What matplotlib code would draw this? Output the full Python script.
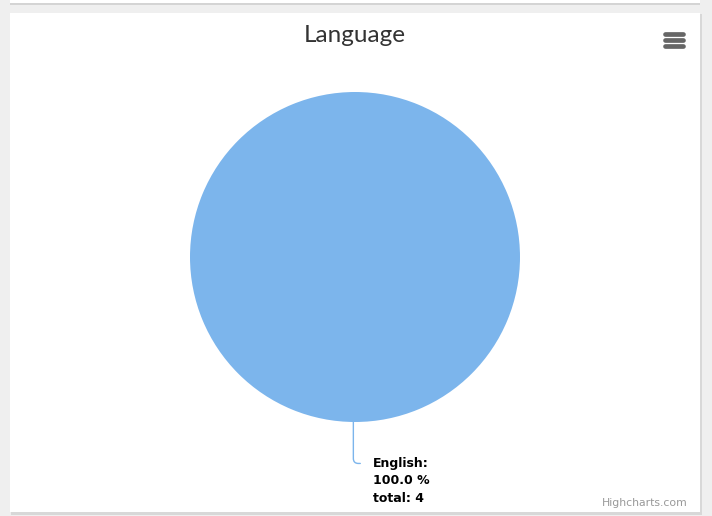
import matplotlib.pyplot as plt
from matplotlib.patches import Rectangle

# data
languages = ["English"]
counts = [4]
title = "Language"
pie_color = "#7cb5ec"

W, H = 712, 516
fig = plt.figure(figsize=(W / 100, H / 100), dpi=100)
fig.patch.set_facecolor("#efefef")

# page / card background in pixel coordinates
bg = fig.add_axes([0, 0, 1, 1])
bg.set_xlim(0, W)
bg.set_ylim(H, 0)
bg.axis("off")
# shadow of the card above
bg.add_patch(Rectangle((10, 0), 690, 5, color="#d4d4d4", lw=0))
bg.add_patch(Rectangle((10, 0), 690, 3, color="white", lw=0))
# card with soft shadow
bg.add_patch(Rectangle((11, 14), 691, 501, color="#d8d8d8", lw=0))
bg.add_patch(Rectangle((10, 13), 690, 499, color="white", lw=0))

# title
bg.text(355, 36, title, ha="center", va="center", fontsize=17.5,
        color="#333333", family="Lato")

# hamburger menu
for yy in (34, 40, 46):
    bg.plot([665, 683], [yy, yy], color="#666666", lw=3.4,
            solid_capstyle="round")

# credits
bg.text(688, 503, "Highcharts.com", ha="right", va="center", fontsize=7.8,
        color="#999999")

# pie
cx, cy, r = 355, 257, 165
ax = fig.add_axes([(cx - r) / W, (H - cy - r) / H, 2 * r / W, 2 * r / H])
total = sum(counts)
ax.pie(counts, colors=[pie_color], startangle=90, counterclock=False,
       radius=1, wedgeprops=dict(linewidth=0))
ax.set_xlim(-1, 1)
ax.set_ylim(-1, 1)
ax.set_aspect("equal")
ax.axis("off")

for name, c in zip(languages, counts):
    label = f"{name}:\n{100 * c / total:.1f} %\ntotal: {c}"
    ax.annotate(label, xy=(-0.01, -1.0), xycoords="data",
                xytext=(14, -25), textcoords="offset points",
                ha="left", va="top", fontsize=9, fontweight="bold",
                color="black", linespacing=1.45, annotation_clip=False,
                arrowprops=dict(arrowstyle="-", color=pie_color, lw=1,
                                connectionstyle="angle,angleA=0,angleB=90,rad=5",
                                shrinkA=7, shrinkB=0,
                                relpos=(0, 0.86)))

fig.savefig("out.png", dpi=100)
